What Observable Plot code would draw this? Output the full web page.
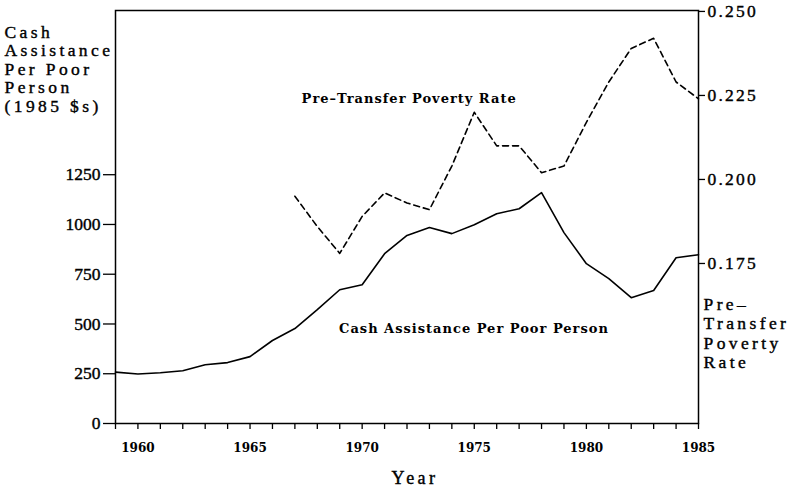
<!DOCTYPE html>
<html><head><meta charset="utf-8">
<script src="https://cdn.jsdelivr.net/npm/d3@7"></script>
<script src="https://cdn.jsdelivr.net/npm/@observablehq/plot@0.6"></script>
<style>body{margin:0;background:#fff}</style>
</head><body><div id="chart"></div>
<script>
const cashYears = d3.range(1959, 1986);
const cashValues = [258, 249, 255, 265, 295, 306, 336, 417, 477, 572, 672, 697, 853, 945, 985, 954, 999, 1054, 1079, 1160, 959, 803, 728, 632, 668, 833, 848];
const povYears = d3.range(1967, 1986);
const povRates = [0.195, 0.186, 0.178, 0.189, 0.196, 0.193, 0.191, 0.204, 0.220, 0.210, 0.210, 0.202, 0.204, 0.217, 0.229, 0.239, 0.242, 0.229, 0.224];
const leftTicks = [0, 250, 500, 750, 1000, 1250];
const rightTicks = [0.175, 0.200, 0.225, 0.250];
const yearTicks = d3.range(1959, 1986);

// map poverty rate onto the left (dollar) scale for the secondary axis
const P0 = 0.175, V0 = 804, K = 16884;
const toLeft = p => V0 + (p - P0) * K;
const fromLeft = v => P0 + (v - V0) / K;

const cash = cashYears.map((year, i) => ({year, value: cashValues[i]}));
const pov = povYears.map((year, i) => ({year, rate: povRates[i]}));

const chart = Plot.plot({
  width: 798, height: 487,
  marginLeft: 115, marginRight: 100, marginTop: 10, marginBottom: 64,
  style: {fontFamily: "Liberation Serif", background: "#fff", color: "#000", overflow: "visible"},
  x: {domain: [1959, 1985]},
  y: {domain: [0, 2075]},
  marks: [
    Plot.frame({stroke: "#000", strokeWidth: 1.5}),
    Plot.axisX(yearTicks, {tickSize: 6, tickPadding: 14, tickFormat: d => d % 5 === 0 ? String(d) : "",
      fontFamily: "DejaVu Serif", fontWeight: "bold", fontSize: 12, label: null, strokeWidth: 1.3}),
    Plot.axisY(leftTicks, {anchor: "left", tickSize: 12, tickPadding: 3, tickFormat: d => String(d),
      fontSize: 17.5, label: null, strokeWidth: 1.3}),
    Plot.axisY(rightTicks.map(toLeft), {anchor: "right", tickSize: 6, tickPadding: 3,
      tickFormat: v => fromLeft(v).toFixed(3), fontSize: 17.5, label: null, strokeWidth: 1.3}),
    Plot.line(cash, {x: "year", y: "value", stroke: "#000", strokeWidth: 1.6}),
    Plot.line(pov, {x: "year", y: d => toLeft(d.rate), stroke: "#000", strokeWidth: 1.6, strokeDasharray: "6,4"}),
    Plot.text(["Cash\nAssistance\nPer Poor\nPerson\n(1985 $s)"], {frameAnchor: "top-left", textAnchor: "start",
      lineAnchor: "top", dx: -111, dy: 14, lineHeight: 1.06, fontSize: 17.5, className: "spaced"}),
    Plot.text(["Pre–\nTransfer\nPoverty\nRate"], {frameAnchor: "top-right", textAnchor: "start",
      lineAnchor: "top", dx: 5, dy: 286, lineHeight: 1.1, fontSize: 17.5, className: "spaced"}),
    Plot.text(["Year"], {frameAnchor: "bottom", dx: 8, dy: 60, fontSize: 18, className: "spaced"}),
    Plot.text(["Pre–Transfer Poverty Rate"], {x: 1967.3, y: 1633, textAnchor: "start",
      fontFamily: "DejaVu Serif", fontWeight: "bold", fontSize: 13, className: "anno"}),
    Plot.text(["Cash Assistance Per Poor Person"], {x: 1968.97, y: 477, textAnchor: "start",
      fontFamily: "DejaVu Serif", fontWeight: "bold", fontSize: 13, className: "anno"})
  ]
});
document.getElementById("chart").appendChild(chart);
const svg = d3.select(chart);
svg.selectAll(".spaced").attr("letter-spacing", 3.4).attr("stroke", "#000").attr("stroke-width", 0.4);
svg.selectAll(".anno").attr("letter-spacing", 1);
const ylabels = svg.selectAll("g[aria-label='y-axis tick label']").nodes();
ylabels.forEach(n => d3.select(n).attr("stroke", "#000").attr("stroke-width", 0.4));
if (ylabels[1]) d3.select(ylabels[1]).attr("letter-spacing", 2.2);
</script>
</body></html>
